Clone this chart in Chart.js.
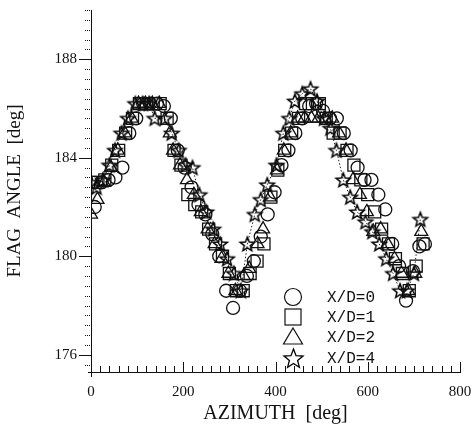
<!DOCTYPE html>
<html>
<head>
<meta charset="utf-8">
<script src="https://cdn.jsdelivr.net/npm/chart.js@4"></script>
<style>
  html, body { margin: 0; padding: 0; background: #fff; }
  canvas { display: block; }
</style>
</head>
<body>
<canvas id="flagChart" width="472" height="430"></canvas>
<script>
// series labels
const seriesNames = ['X/D=0', 'X/D=1', 'X/D=2', 'X/D=4'];

// X/D=0 (circles)
const azCircle  = [8, 23, 38, 53, 68, 83, 98, 113, 128, 143, 158, 173, 188, 203, 218, 233, 248, 263, 278, 293, 308, 323, 338, 353, 368, 383, 398, 413, 428, 443, 458, 473, 488, 503, 518, 533, 548, 563, 578, 593, 608, 623, 638, 653, 668, 683, 698, 712, 724];
const valCircle = [182.0, 183.0, 183.1, 183.2, 183.6, 185.0, 185.6, 186.2, 186.2, 186.2, 186.1, 185.6, 184.3, 183.6, 182.8, 182.1, 181.7, 180.9, 180.0, 178.6, 177.9, 178.6, 179.2, 179.8, 180.8, 181.7, 182.6, 183.7, 184.3, 185.0, 185.6, 186.1, 186.2, 185.9, 185.6, 185.6, 185.0, 184.3, 183.6, 183.1, 183.1, 182.5, 181.9, 180.5, 179.6, 178.2, 179.4, 180.4, 180.5];

// X/D=1 (squares)
const azSquare  = [0, 15, 30, 45, 60, 75, 90, 105, 120, 135, 150, 165, 180, 195, 210, 225, 240, 255, 270, 285, 300, 315, 330, 345, 360, 375, 390, 405, 420, 435, 450, 465, 480, 495, 510, 525, 540, 555, 570, 585, 600, 615, 630, 645, 660, 675, 690, 705, 720];
const valSquare = [183.0, 183.0, 183.1, 183.7, 184.3, 185.0, 185.6, 186.2, 186.2, 186.2, 186.2, 185.6, 184.3, 183.7, 182.5, 182.1, 181.8, 181.1, 180.5, 180.0, 179.3, 178.6, 178.6, 179.3, 179.8, 180.5, 182.4, 183.5, 184.3, 185.0, 185.6, 186.2, 186.2, 186.2, 185.6, 185.0, 185.0, 184.3, 183.7, 183.1, 182.5, 181.8, 181.1, 180.5, 179.9, 179.3, 178.6, 179.6, 180.5];

// X/D=2 (triangles)
const azTriangle  = [0, 14, 28, 43, 58, 73, 88, 103, 118, 133, 148, 171, 178, 193, 208, 223, 238, 253, 268, 283, 298, 313, 331, 343, 361, 373, 388, 403, 418, 433, 448, 463, 478, 493, 508, 523, 538, 553, 568, 583, 598, 612, 628, 643, 658, 673, 688, 703, 716];
const valTriangle = [181.7, 182.3, 183.0, 183.6, 184.3, 185.0, 185.6, 186.2, 186.2, 186.2, 186.2, 185.0, 184.3, 183.7, 183.1, 182.5, 181.8, 181.1, 180.5, 179.9, 179.3, 178.6, 179.2, 179.5, 180.5, 181.1, 182.4, 183.5, 184.3, 185.0, 185.6, 185.6, 185.6, 185.6, 185.6, 185.6, 185.0, 184.3, 183.1, 182.5, 181.8, 181.0, 181.1, 180.5, 179.9, 179.3, 178.6, 179.3, 181.0];

// X/D=4 (stars)
const azStar  = [0, 12, 26, 40, 52, 66, 80, 96, 112, 126, 138, 160, 175, 190, 205, 220, 235, 250, 265, 280, 295, 310, 325, 339, 355, 368, 382, 402, 417, 430, 442, 458, 476, 490, 505, 519, 532, 547, 562, 577, 595, 610, 625, 640, 655, 670, 685, 700, 714];
const valStar = [183.0, 182.8, 183.1, 183.7, 184.3, 185.0, 185.6, 186.2, 186.2, 186.2, 185.6, 185.6, 185.0, 184.3, 183.7, 183.6, 182.5, 181.8, 181.1, 180.5, 179.9, 179.3, 178.6, 180.5, 181.7, 182.3, 182.9, 183.7, 185.0, 185.6, 186.3, 186.6, 186.8, 186.3, 185.6, 185.2, 184.3, 183.1, 182.4, 181.8, 181.4, 181.0, 180.5, 179.9, 179.3, 178.6, 178.6, 179.3, 181.5];

// axis ticks
const xTickLabels = [0, 200, 400, 600, 800];
const yTickLabels = [176, 180, 184, 188];

const ink = '#111';

function pairs(xs, ys) {
  return xs.map((x, i) => ({ x: x, y: ys[i] }));
}

// five-point outline star used as a point style
function makeStar(outer, inner, lw) {
  const c = document.createElement('canvas');
  const s = Math.ceil(outer * 2 + lw * 2 + 2);
  c.width = s; c.height = s;
  const g = c.getContext('2d');
  g.strokeStyle = '#000';
  g.lineWidth = lw;
  g.lineJoin = 'miter';
  g.beginPath();
  for (let k = 0; k < 10; k++) {
    const r = k % 2 === 0 ? outer : inner;
    const a = -Math.PI / 2 + k * Math.PI / 5;
    const px = s / 2 + r * Math.cos(a);
    const py = s / 2 + 0.6 + r * Math.sin(a);
    if (k === 0) g.moveTo(px, py); else g.lineTo(px, py);
  }
  g.closePath();
  g.stroke();
  return c;
}

const starPoint = makeStar(7.5, 3.2, 1.5);
const starLegend = makeStar(10, 4.3, 1.3);

// hand-drawn axis ticks and in-plot legend
const axisDecor = {
  id: 'axisDecor',
  afterDraw(chart) {
    const ctx = chart.ctx;
    const xs = chart.scales.x, ys = chart.scales.y;
    const x0 = xs.left, yb = ys.bottom;
    ctx.save();
    ctx.strokeStyle = ink;
    ctx.lineWidth = 1;
    // x ticks every 20, pointing up
    for (let v = 0; v <= 800; v += 20) {
      const px = Math.round(xs.getPixelForValue(v)) + 0.5;
      const len = v % 200 === 0 ? 10 : 6;
      ctx.beginPath();
      ctx.moveTo(px, yb);
      ctx.lineTo(px, yb - len);
      ctx.stroke();
    }
    // y ticks every 0.4, pointing left
    for (let k = 0; k <= 36; k++) {
      const v = 175.6 + k * 0.4;
      if (v > 190.01) break;
      const py = Math.round(ys.getPixelForValue(v)) + 0.5;
      const major = Math.abs(v - Math.round(v)) < 0.01 && Math.round(v) % 4 === 0;
      ctx.beginPath();
      if (major) {
        ctx.setLineDash([]);
        ctx.moveTo(x0 - 12, py);
      } else {
        ctx.setLineDash([1, 1]);
        ctx.moveTo(x0 - 6, py);
      }
      ctx.lineTo(x0, py);
      ctx.stroke();
    }
    ctx.setLineDash([]);
    // small overhang at the origin
    ctx.beginPath();
    ctx.moveTo(x0 - 3, yb + 0.5); ctx.lineTo(x0, yb + 0.5);
    ctx.moveTo(x0 + 0.5, yb); ctx.lineTo(x0 + 0.5, yb + 5);
    ctx.stroke();

    // legend
    const lx = 293, rows = [297, 317, 337, 358];
    ctx.lineWidth = 1.2;
    ctx.font = '16px "Liberation Mono", monospace';
    ctx.fillStyle = ink;
    ctx.textBaseline = 'middle';
    chart.data.datasets.forEach((ds, i) => {
      const cy = rows[i];
      ctx.beginPath();
      if (i === 0) {
        ctx.arc(lx, cy, 8.5, 0, Math.PI * 2);
        ctx.stroke();
      } else if (i === 1) {
        ctx.strokeRect(lx - 8, cy - 8, 16, 16);
      } else if (i === 2) {
        ctx.moveTo(lx, cy - 9);
        ctx.lineTo(lx + 9.5, cy + 7);
        ctx.lineTo(lx - 9.5, cy + 7);
        ctx.closePath();
        ctx.stroke();
      } else {
        ctx.drawImage(starLegend, Math.round(lx - starLegend.width / 2), Math.round(cy - starLegend.height / 2));
      }
      ctx.fillText(ds.label, 327, cy + 1);
    });
    ctx.restore();
  }
};

const pointBase = {
  backgroundColor: 'rgba(0,0,0,0)',
  borderColor: ink,
  pointBorderColor: ink,
  pointBackgroundColor: 'rgba(0,0,0,0)',
  pointBorderWidth: 1.3,
  showLine: false
};

const data = {
  datasets: [
    Object.assign({}, pointBase, { label: seriesNames[0], data: pairs(azCircle, valCircle), pointStyle: 'circle', pointRadius: 6.5 }),
    Object.assign({}, pointBase, { label: seriesNames[1], data: pairs(azSquare, valSquare), pointStyle: 'rect', pointRadius: 8.5 }),
    Object.assign({}, pointBase, { label: seriesNames[2], data: pairs(azTriangle, valTriangle), pointStyle: 'triangle', pointRadius: 7.5 }),
    Object.assign({}, pointBase, {
      label: seriesNames[3], data: pairs(azStar, valStar), pointStyle: starPoint,
      showLine: true, borderWidth: 1, borderDash: [1.5, 2], borderColor: '#222', tension: 0
    })
  ]
};

const config = {
  type: 'scatter',
  data: data,
  options: {
    responsive: false,
    animation: false,
    devicePixelRatio: 1,
    layout: { padding: { top: 10, right: 12, left: 0, bottom: 0 } },
    plugins: { legend: { display: false }, tooltip: { enabled: false } },
    scales: {
      x: {
        type: 'linear', min: 0, max: 800,
        afterBuildTicks: (s) => { s.ticks = xTickLabels.map(v => ({ value: v })); },
        afterFit: (s) => { s.height = 58; s.paddingLeft = 0; s.paddingRight = 0; },
        grid: { display: false, drawTicks: false },
        border: { color: ink, width: 1 },
        ticks: { color: ink, padding: 11, maxRotation: 0, font: { family: '"Liberation Serif", serif', size: 15 } },
        title: { display: true, text: 'AZIMUTH  [deg]', color: ink, padding: { top: 4 }, font: { family: '"Liberation Serif", serif', size: 20 } }
      },
      y: {
        type: 'linear', min: 175.3, max: 190,
        afterBuildTicks: (s) => { s.ticks = yTickLabels.map(v => ({ value: v })); },
        afterFit: (s) => { s.width = 91; s.paddingTop = 0; s.paddingBottom = 0; },
        grid: { display: false, drawTicks: false },
        border: { color: ink, width: 1 },
        ticks: { color: ink, padding: 14, font: { family: '"Liberation Serif", serif', size: 15 } },
        title: { display: true, text: 'FLAG  ANGLE  [deg]', color: ink, padding: { bottom: 4 }, font: { family: '"Liberation Serif", serif', size: 19 } }
      }
    }
  },
  plugins: [axisDecor]
};

const flagChart = new Chart(document.getElementById('flagChart').getContext('2d'), config);
</script>
</body>
</html>
